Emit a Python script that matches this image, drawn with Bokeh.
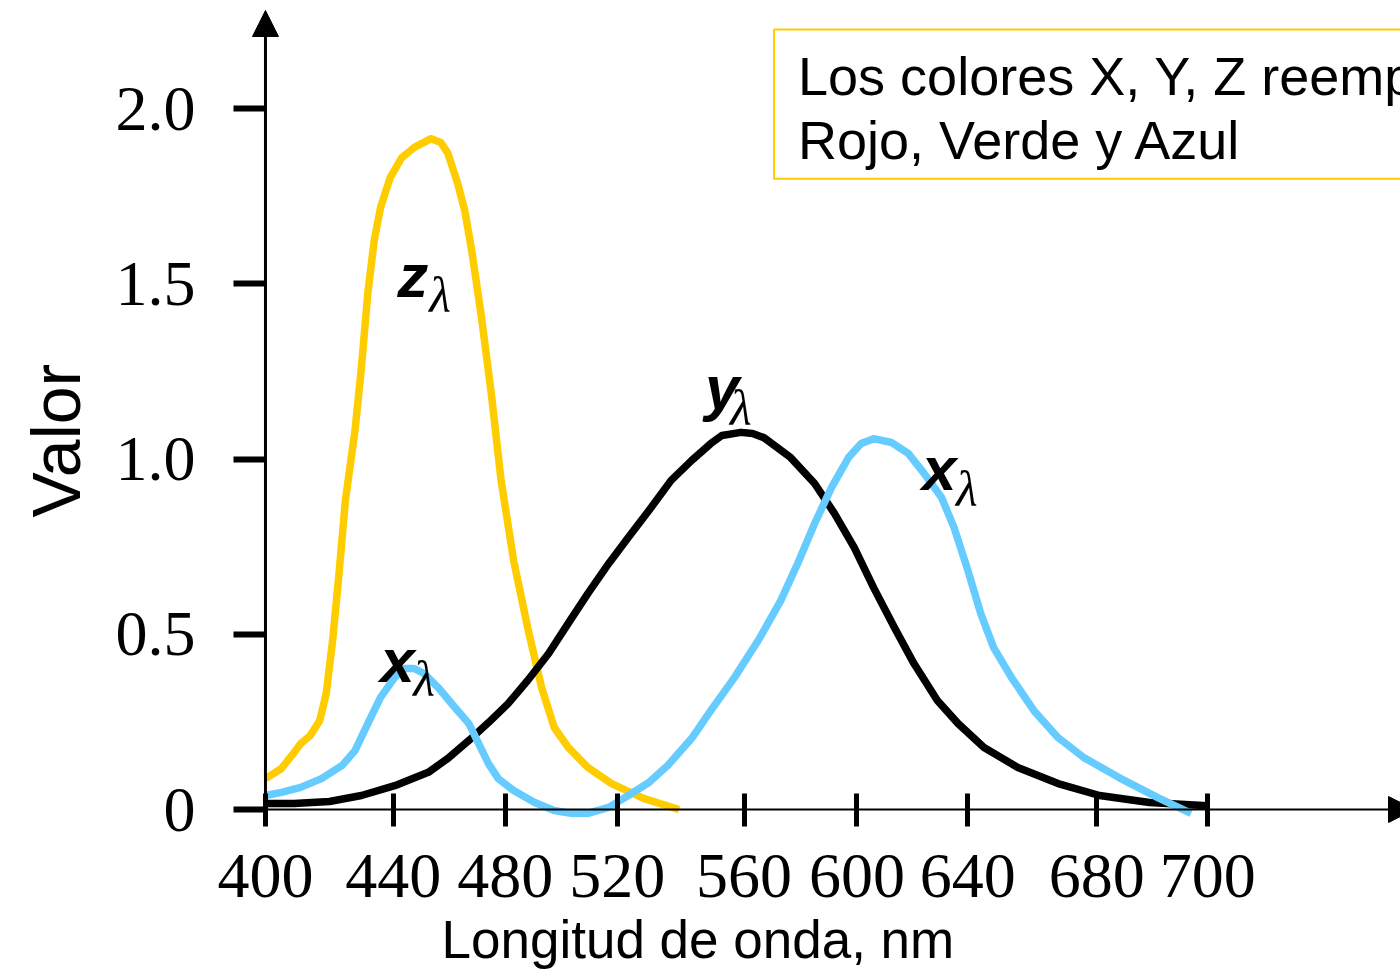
import numpy as np
from bokeh.plotting import figure
from bokeh.models import Range1d, FixedTicker, Label, Arrow, NormalHead, Title
from bokeh.embed import file_html
from bokeh.resources import INLINE

# ---------------- data ----------------
tick_wavelengths = [400, 440, 480, 520, 560, 600, 640, 680, 700]
tick_labels = ["400", "440", "480", "520", "560", "600", "640", "680", "700"]
value_ticks = [0.0, 0.5, 1.0, 1.5, 2.0]
value_tick_labels = ["0", "0.5", "1.0", "1.5", "2.0"]

# z-lambda (yellow)
z_wl = [400, 405, 409, 411, 414, 417, 419, 421, 423, 425, 428, 430, 432, 434, 436,
        439, 443, 447.5, 453.5, 457, 459.5, 463, 465.5, 468, 471.5, 475, 478.5,
        483, 488, 493, 497.5, 502.5, 509.5, 518, 528.5, 539.5]
z_val = [0.088, 0.117, 0.163, 0.188, 0.211, 0.254, 0.331, 0.482, 0.673, 0.882, 1.081,
         1.261, 1.472, 1.623, 1.718, 1.803, 1.860, 1.889, 1.914, 1.903, 1.872, 1.786,
         1.709, 1.595, 1.404, 1.187, 0.939, 0.710, 0.519, 0.348, 0.234, 0.177, 0.120,
         0.074, 0.031, 0.0]

# x-lambda (light blue)
x_wl = [400, 405, 411, 417.5, 424, 428, 432, 436, 440.5, 444, 447.5, 451, 456, 462,
        467, 470.5, 474, 477.5, 483, 490.5, 497.5, 503.5, 509.5, 517, 523.5, 530, 536,
        543.5, 549.5, 557, 565, 573, 579, 585, 591, 597, 601.5, 606, 612.5, 618.5, 624,
        630.5, 635, 640, 644, 648, 653.5, 660.5, 668, 676, 684, 691, 697]
x_val = [0.040, 0.049, 0.063, 0.088, 0.126, 0.168, 0.245, 0.320, 0.377, 0.402, 0.402,
         0.388, 0.348, 0.291, 0.245, 0.188, 0.131, 0.088, 0.054, 0.020, -0.003, -0.011,
         -0.011, 0.006, 0.040, 0.077, 0.126, 0.203, 0.282, 0.377, 0.482, 0.596, 0.702,
         0.816, 0.919, 1.004, 1.044, 1.058, 1.047, 1.016, 0.961, 0.890, 0.805, 0.682,
         0.559, 0.462, 0.377, 0.282, 0.205, 0.148, 0.091, 0.034, -0.011]

# y-lambda (black)
y_wl = [400, 409, 420, 430, 440.5, 452.5, 459.5, 467, 474, 481, 488, 495.5, 502.5,
        509.5, 517, 523.5, 530, 537, 543.5, 549.5, 553, 559, 563, 567, 576.5, 585, 592,
        599, 606, 613.5, 620.5, 629, 636.5, 645, 655.5, 668, 680.5, 689.5, 700]
y_val = [0.017, 0.017, 0.023, 0.040, 0.068, 0.106, 0.146, 0.197, 0.248, 0.302, 0.368,
         0.445, 0.531, 0.616, 0.702, 0.776, 0.853, 0.939, 0.996, 1.044, 1.067, 1.076,
         1.073, 1.061, 1.004, 0.930, 0.845, 0.748, 0.633, 0.519, 0.417, 0.311, 0.245,
         0.177, 0.120, 0.074, 0.040, 0.020, 0.011]

legend_text = "Los colores X, Y, Z reemplazan a\nRojo, Verde y Azul"
x_title = "Longitud de onda, nm"
y_title = "Valor"

# ---------------- layout ----------------
# the drawn wavelength axis is not uniform: where each labelled tick sits along it
AXIS_TICK_POS = [0, 128, 240, 352, 479, 592, 703, 832, 943]
PX_PER_UNIT = 350.5
ZERO_PX = 809


def to_axis(wl):
    return np.interp(wl, tick_wavelengths, AXIS_TICK_POS)


def ann_x(px):
    return px - 264


def ann_y(py):
    return (ZERO_PX - py) / PX_PER_UNIT


p = figure(width=1400, height=977, output_backend="svg", toolbar_location=None,
           x_range=Range1d(-32, 1136),
           y_range=Range1d(ann_y(826), ann_y(0)),
           min_border_left=232, min_border_right=0, min_border_top=0,
           min_border_bottom=151, outline_line_color=None,
           background_fill_color="white", border_fill_color="white")
p.xgrid.visible = False
p.ygrid.visible = False

xa = p.xaxis[0]
xa.ticker = FixedTicker(ticks=AXIS_TICK_POS)
xa.major_label_overrides = {pos: lab for pos, lab in zip(AXIS_TICK_POS, tick_labels)}
xa.axis_line_color = None
xa.major_tick_in = 33
xa.major_tick_out = 0
xa.major_tick_line_width = 5
xa.minor_tick_line_color = None
xa.major_label_text_font = "Liberation Serif"
xa.major_label_text_font_size = "64px"
xa.major_label_text_color = "black"
xa.major_label_standoff = 28

ya = p.yaxis[0]
ya.ticker = FixedTicker(ticks=value_ticks)
ya.major_label_overrides = {v: lab for v, lab in zip(value_ticks, value_tick_labels)}
ya.axis_line_color = None
ya.major_tick_in = 32
ya.major_tick_out = 0
ya.major_tick_line_width = 6
ya.minor_tick_line_color = None
ya.major_label_text_font = "Liberation Serif"
ya.major_label_text_font_size = "64px"
ya.major_label_text_color = "black"
ya.major_label_standoff = 38

# axis titles
p.add_layout(Title(text=x_title, align="left", offset=208, standoff=17,
                   text_font="Liberation Sans", text_font_size="53px",
                   text_font_style="normal", text_color="black"), "below")
p.add_layout(Title(text=y_title, align="left", offset=309, standoff=34,
                   vertical_align="top",
                   text_font="Liberation Sans", text_font_size="68px",
                   text_font_style="normal", text_color="black"), "left")

# axis lines with arrow heads
p.add_layout(Arrow(x_start=ann_x(247), y_start=0, x_end=ann_x(1414), y_end=0,
                   line_width=2, line_color="black",
                   end=NormalHead(size=26, fill_color="black", line_color="black", line_width=1)))
p.add_layout(Arrow(x_start=0, y_start=0, x_end=0, y_end=ann_y(10),
                   line_width=3, line_color="black",
                   end=NormalHead(size=26, fill_color="black", line_color="black", line_width=1)))

# curves
p.line(to_axis(z_wl), z_val, line_width=7.5, line_color="#FFCC00", line_join="round")
p.line(to_axis(y_wl), y_val, line_width=7.5, line_color="black", line_join="round")
p.line(to_axis(x_wl), x_val, line_width=7.5, line_color="#66CCFF", line_join="round")

# curve labels
def curve_label(letter, lx, ly, sx, sy):
    p.add_layout(Label(x=ann_x(lx), y=ann_y(ly), text=letter, text_font="Liberation Sans",
                       text_font_style="bold italic", text_font_size="62px",
                       text_baseline="alphabetic", text_align="left", text_color="black"))
    p.add_layout(Label(x=ann_x(sx), y=ann_y(sy), text="λ", text_font="Liberation Serif",
                       text_font_style="italic", text_font_size="50px",
                       text_baseline="alphabetic", text_align="left", text_color="black"))

curve_label("z", 396, 275, 428, 294)
curve_label("x", 379, 660, 412, 678)
curve_label("y", 704, 387, 729, 407)
curve_label("x", 921, 468, 955, 488)

# explanatory box (the box corner is the anchor)
p.add_layout(Label(x=ann_x(773), y=ann_y(29), text=legend_text,
                   text_font="Liberation Sans", text_font_size="54px",
                   text_baseline="top", text_align="left", text_color="black",
                   text_line_height=1.07,
                   border_line_color="#FFCC00", border_line_width=2,
                   background_fill_color="white",
                   padding=dict(left=24, right=24, top=16, bottom=9)))

open("out.html", "w").write(file_html(p, INLINE))
